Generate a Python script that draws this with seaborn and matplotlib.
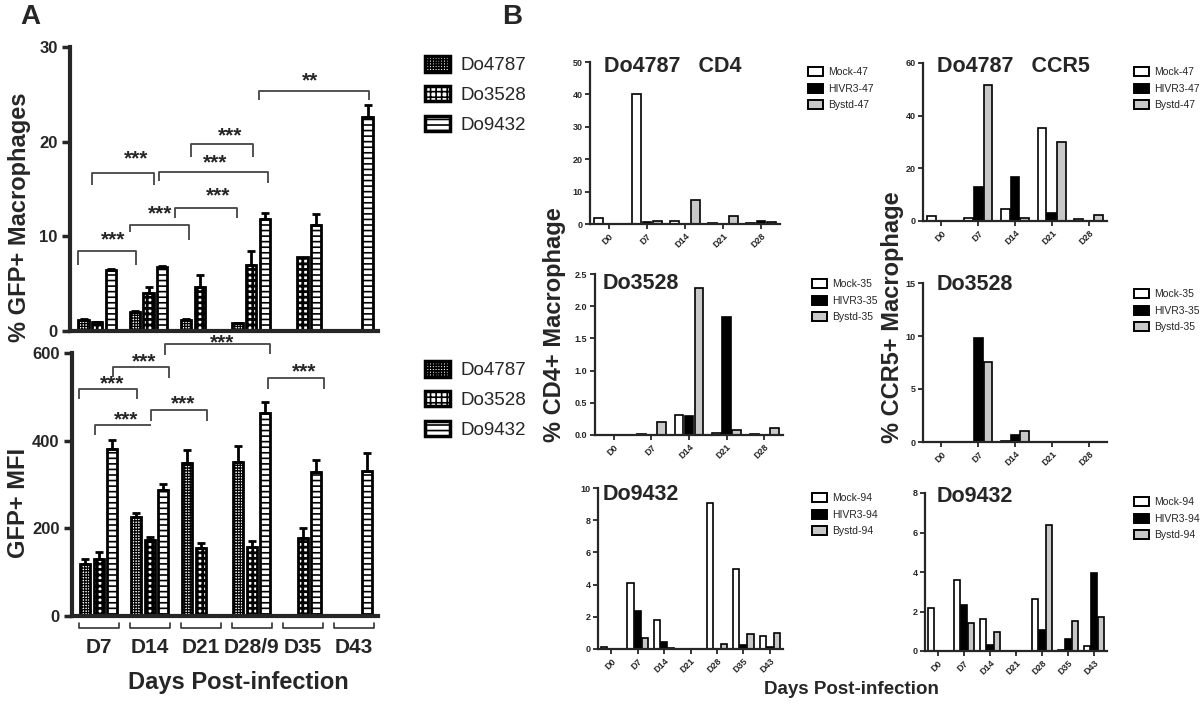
import numpy as np
import pandas as pd
import matplotlib
matplotlib.use("Agg")
import matplotlib.pyplot as plt
import matplotlib.patches as mpatches
import matplotlib.transforms as mtransforms
import seaborn as sns

nan = np.nan

# ---------------- Panel A data ----------------
days_A = ["D7", "D14", "D21", "D28/9", "D35", "D43"]
donors = ["Do4787", "Do3528", "Do9432"]

gfp_do4787 = [1.2, 2.0, 1.2, 0.8, nan, nan]
gfp_do3528 = [0.9, 4.0, 4.7, 7.0, 7.8, nan]
gfp_do9432 = [6.4, 6.8, nan, 11.8, 11.2, 22.6]
gfp_err_do4787 = [0.1, 0.15, 0.1, 0.05, nan, nan]
gfp_err_do3528 = [0.05, 0.6, 1.2, 1.4, 0.0, nan]
gfp_err_do9432 = [0.2, 0.1, nan, 0.7, 1.2, 1.3]

mfi_do4787 = [118, 225, 349, 352, nan, nan]
mfi_do3528 = [131, 173, 155, 157, 177, nan]
mfi_do9432 = [382, 288, nan, 463, 329, 331]
mfi_err_do4787 = [12, 11, 30, 35, nan, nan]
mfi_err_do3528 = [14, 7, 11, 13, 23, nan]
mfi_err_do9432 = [19, 14, nan, 26, 27, 42]

# significance brackets: (x_left, x_right, y_bar, y_left_end, y_right_end, label_x, label_y)
sig_gfp = [
    (-0.37, 0.76, 8.5, 7.0, 7.0, 0.31, 10.0),
    (0.63, 1.78, 11.2, 10.5, 9.6, 1.23, 12.8),
    (1.52, 2.73, 13.0, 11.9, 11.9, 2.35, 14.7),
    (-0.10, 1.11, 16.7, 15.4, 15.4, 0.76, 18.6),
    (1.20, 3.33, 16.8, 15.8, 15.6, 2.30, 18.2),
    (1.83, 3.04, 19.75, 18.4, 18.4, 2.59, 21.0),
    (3.15, 5.29, 25.4, 24.4, 24.4, 4.14, 26.8),
]
sig_gfp_labels = ["***", "***", "***", "***", "***", "***", "**"]

sig_mfi = [
    (-0.39, 0.74, 517, 494, 494, 0.27, 538),
    (0.27, 1.38, 568, 545, 543, 0.88, 589),
    (1.30, 3.35, 620, 595, 597, 2.42, 633),
    (-0.08, 1.03, 436, 413, 436, 0.54, 456),
    (1.03, 2.12, 469, 446, 444, 1.66, 492),
    (3.31, 4.42, 542, 519, 519, 4.03, 566),
]
sig_mfi_labels = ["***"] * 6

# ---------------- Panel B data ----------------
days_B5 = ["D0", "D7", "D14", "D21", "D28"]
days_B7 = ["D0", "D7", "D14", "D21", "D28", "D35", "D43"]
conditions = ["Mock", "HIVR3", "Bystd"]

cd4_do4787_mock = [2.0, 40.0, 0.9, 0.3, 0.2]
cd4_do4787_hivr3 = [0.0, 0.6, 0.1, 0.0, 0.8]
cd4_do4787_bystd = [0.0, 0.8, 7.4, 2.5, 0.6]

ccr5_do4787_mock = [1.9, 1.0, 4.4, 35.2, 0.7]
ccr5_do4787_hivr3 = [0.0, 13.0, 16.8, 3.0, 0.0]
ccr5_do4787_bystd = [0.0, 51.8, 1.3, 30.0, 2.3]

cd4_do3528_mock = [0.0, 0.02, 0.31, 0.03, 0.02]
cd4_do3528_hivr3 = [0.0, 0.0, 0.295, 1.83, 0.0]
cd4_do3528_bystd = [0.0, 0.2, 2.29, 0.07, 0.11]

ccr5_do3528_mock = [0.0, 0.0, 0.12, 0.0, 0.0]
ccr5_do3528_hivr3 = [0.0, 9.8, 0.63, 0.0, 0.0]
ccr5_do3528_bystd = [0.0, 7.55, 1.0, 0.0, 0.0]

cd4_do9432_mock = [0.12, 4.08, 1.8, 0.0, 9.05, 4.99, 0.83]
cd4_do9432_hivr3 = [0.0, 2.34, 0.46, 0.0, 0.0, 0.27, 0.15]
cd4_do9432_bystd = [0.0, 0.68, 0.05, 0.0, 0.33, 0.95, 0.97]

ccr5_do9432_mock = [2.19, 3.62, 1.62, 0.0, 2.64, 0.05, 0.25]
ccr5_do9432_hivr3 = [0.0, 2.34, 0.30, 0.0, 1.06, 0.61, 3.97]
ccr5_do9432_bystd = [0.0, 1.40, 0.98, 0.0, 6.36, 1.52, 1.72]

# ---------------- style ----------------
sns.set_style("ticks")
plt.rcParams["font.family"] = ["Liberation Sans", "DejaVu Sans"]
plt.rcParams["hatch.linewidth"] = 1.2
A_HATCH = ["++++++", "+++", "---"]
A_HATCH_LW = [0.9, 2.0, 1.2]
B_COLORS = ["white", "black", "#c8c8c8"]

W, H = 1200, 711
fig = plt.figure(figsize=(12, 7.11), dpi=100)


def fx(px):
    return px / W


def fy(py):
    return 1 - py / H


def rect(x0, y0, x1, y1):
    return [fx(x0), fy(y1), (x1 - x0) / W, (y1 - y0) / H]


def style_hatch(patch, k):
    patch.set_hatch(A_HATCH[k])
    if hasattr(patch, "set_hatch_linewidth"):
        patch.set_hatch_linewidth(A_HATCH_LW[k])


def panel_A(r, vals, errs, ymax, yticks, xlim):
    ax = fig.add_axes(r)
    rows = []
    for d, vs in zip(donors, vals):
        for day, v in zip(days_A, vs):
            if not np.isnan(v):
                rows.append((day, d, v))
    df = pd.DataFrame(rows, columns=["day", "donor", "value"])
    sns.barplot(data=df, x="day", y="value", hue="donor", order=days_A,
                hue_order=donors, palette=["white"] * 3, saturation=1,
                edgecolor="black", linewidth=2, width=0.8, gap=0.25,
                errorbar=None, legend=False, ax=ax)
    bar_conts = list(ax.containers)
    for cont in bar_conts:
        for bar in cont:
            cx = bar.get_x() + bar.get_width() / 2
            cat = int(round(cx))
            k = int(round((cx - cat) / (0.8 / 3))) + 1
            style_hatch(bar, k)
            e = errs[k][cat]
            if not np.isnan(e) and e > 0:
                ax.errorbar(cx, bar.get_height(), yerr=[[0], [e]], fmt="none",
                            ecolor="black", elinewidth=2, capsize=3, capthick=2)
    ax.set_ylim(0, ymax)
    ax.set_xlim(*xlim)
    ax.set_yticks(yticks)
    ax.set_xlabel("")
    ax.set_ylabel("")
    sns.despine(ax=ax)
    for s in ("left", "bottom"):
        ax.spines[s].set_linewidth(3)
    ax.tick_params(axis="y", direction="out", length=6, width=2.5, pad=3)
    for t in ax.get_yticklabels():
        t.set_fontweight("bold")
        t.set_fontsize(12)
    return ax


def draw_sig(ax, sig, labels):
    off = mtransforms.offset_copy(ax.transData, fig=fig, y=-4, units="dots")
    for (x1, x2, y, yl, yr, lx, ly), lab in zip(sig, labels):
        ax.plot([x1, x1, x2, x2], [yl, y, y, yr], color="#444444", lw=1.3,
                clip_on=False, solid_capstyle="butt")
        ax.text(lx, ly, lab, ha="center", va="center", fontsize=15,
                fontweight="bold", transform=off, clip_on=False)


# ---------- Panel A top ----------
axA1 = panel_A(rect(70, 47, 378, 331),
               [gfp_do4787, gfp_do3528, gfp_do9432],
               [gfp_err_do4787, gfp_err_do3528, gfp_err_do9432],
               30, [0, 10, 20, 30], (-0.53, 5.47))
axA1.set_xticks(range(len(days_A)))
axA1.set_xticklabels([])
axA1.tick_params(axis="x", length=0)
draw_sig(axA1, sig_gfp, sig_gfp_labels)
axA1.set_ylabel("% GFP+ Macrophages", fontsize=17, fontweight="bold",
                va="center")
axA1.yaxis.set_label_coords((20 - 70) / 308, (331 - 217) / 284)

# ---------- Panel A bottom ----------
axA2 = panel_A(rect(72, 353, 378, 616),
               [mfi_do4787, mfi_do3528, mfi_do9432],
               [mfi_err_do4787, mfi_err_do3528, mfi_err_do9432],
               600, [0, 200, 400, 600], (-0.525, 5.475))
axA2.set_xticks(range(len(days_A)))
axA2.set_xticklabels(days_A, fontsize=15, fontweight="bold")
axA2.tick_params(axis="x", length=0, pad=16)
draw_sig(axA2, sig_mfi, sig_mfi_labels)
axA2.set_ylabel("GFP+ MFI", fontsize=17, fontweight="bold", va="center")
axA2.yaxis.set_label_coords((19 - 72) / 306, (616 - 503) / 263)
blend = mtransforms.blended_transform_factory(axA2.transData, axA2.transAxes)
for i in range(len(days_A)):
    axA2.plot([i - 0.39, i - 0.39, i + 0.39, i + 0.39],
              [-0.025, -0.047, -0.047, -0.025], transform=blend,
              color="#333333", lw=1.2, clip_on=False)

fig.text(fx(238), fy(683), "Days Post-infection", ha="center", va="center",
         fontsize=17, fontweight="bold")

# A legends
A_handles = []
for k in range(3):
    p = mpatches.Patch(facecolor="white", edgecolor="black", linewidth=2.5)
    style_hatch(p, k)
    A_handles.append(p)
for top in (56, 361):
    fig.legend(A_handles, donors, loc="upper left",
               bbox_to_anchor=(fx(425), fy(top)), frameon=False,
               prop={"size": 13.5}, handlelength=1.33,
               handleheight=0.9, handletextpad=0.59, labelspacing=0.62,
               borderpad=0, borderaxespad=0)


# ---------- Panel B ----------
def panel_B(r, days, mock, hivr3, bystd, ymax, yticks, fmt, title, title_xy,
            suffix, leg_top_left):
    ax = fig.add_axes(r)
    labels = [f"{c}-{suffix}" for c in conditions]
    df = pd.DataFrame({
        "day": days * 3,
        "pct": list(mock) + list(hivr3) + list(bystd),
        "cond": [lab for lab in labels for _ in days],
    })
    sns.barplot(data=df, x="day", y="pct", hue="cond", order=days,
                hue_order=labels, palette=B_COLORS, saturation=1,
                edgecolor="black", linewidth=1.2, width=0.8, gap=0.12,
                errorbar=None, legend=False, ax=ax)
    ax.set_ylim(0, ymax)
    ax.set_xlim(-0.5, len(days) - 0.5)
    ax.set_yticks(yticks)
    ax.set_yticklabels([fmt.format(v) for v in yticks],
                       fontweight="bold", fontsize=6.5)
    ax.set_xticks(range(len(days)))
    ax.set_xticklabels(days, rotation=45, ha="right", rotation_mode="anchor",
                       fontweight="bold", fontsize=6.5)
    ax.set_xlabel("")
    ax.set_ylabel("")
    sns.despine(ax=ax)
    for s in ("left", "bottom"):
        ax.spines[s].set_linewidth(1.6)
    ax.tick_params(direction="out", length=3.5, width=1.3, pad=2)
    fig.text(fx(title_xy[0]), fy(title_xy[1]), title, ha="left", va="center",
             fontsize=15.5, fontweight="bold")
    handles = [mpatches.Patch(facecolor=c, edgecolor="black", linewidth=1.4)
               for c in B_COLORS]
    fig.legend(handles, labels, loc="upper left",
               bbox_to_anchor=(fx(leg_top_left[0]), fy(leg_top_left[1])),
               frameon=False, prop={"size": 7.5},
               handlelength=1.44, handleheight=0.96, handletextpad=0.5,
               labelspacing=0.62, borderpad=0, borderaxespad=0)
    return ax


panel_B(rect(590, 62, 780, 224), days_B5, cd4_do4787_mock, cd4_do4787_hivr3,
        cd4_do4787_bystd, 50, [0, 10, 20, 30, 40, 50], "{:g}",
        "Do4787   CD4", (604, 66), "47", (808, 67))
panel_B(rect(923, 63, 1107, 221), days_B5, ccr5_do4787_mock, ccr5_do4787_hivr3,
        ccr5_do4787_bystd, 60, [0, 20, 40, 60], "{:g}",
        "Do4787   CCR5", (937, 67), "47", (1134, 67))
panel_B(rect(595, 274, 783, 435), days_B5, cd4_do3528_mock, cd4_do3528_hivr3,
        cd4_do3528_bystd, 2.5, [0, 0.5, 1.0, 1.5, 2.0, 2.5], "{:.1f}",
        "Do3528", (603, 284), "35", (812, 279))
panel_B(rect(923, 283, 1107, 442), days_B5, ccr5_do3528_mock, ccr5_do3528_hivr3,
        ccr5_do3528_bystd, 15, [0, 5, 10, 15], "{:g}",
        "Do3528", (937, 285), "35", (1134, 289))
panel_B(rect(598, 488, 783, 649), days_B7, cd4_do9432_mock, cd4_do9432_hivr3,
        cd4_do9432_bystd, 10, [0, 2, 4, 6, 8, 10], "{:g}",
        "Do9432", (603, 495), "94", (812, 493))
panel_B(rect(925, 493, 1107, 651), days_B7, ccr5_do9432_mock, ccr5_do9432_hivr3,
        ccr5_do9432_bystd, 8, [0, 2, 4, 6, 8], "{:g}",
        "Do9432", (937, 496), "94", (1134, 497))

fig.text(fx(555), fy(325), "% CD4+ Macrophage", rotation=90, ha="center",
         va="center", fontsize=17, fontweight="bold")
fig.text(fx(892), fy(317), "% CCR5+ Macrophage", rotation=90, ha="center",
         va="center", fontsize=17, fontweight="bold")
fig.text(fx(851), fy(690), "Days Post-infection", ha="center", va="center",
         fontsize=13.5, fontweight="bold")

fig.text(fx(30), fy(17), "A", ha="center", va="center", fontsize=20,
         fontweight="bold")
fig.text(fx(512), fy(17), "B", ha="center", va="center", fontsize=20,
         fontweight="bold")

fig.savefig("out.png", dpi=100, facecolor="white")
